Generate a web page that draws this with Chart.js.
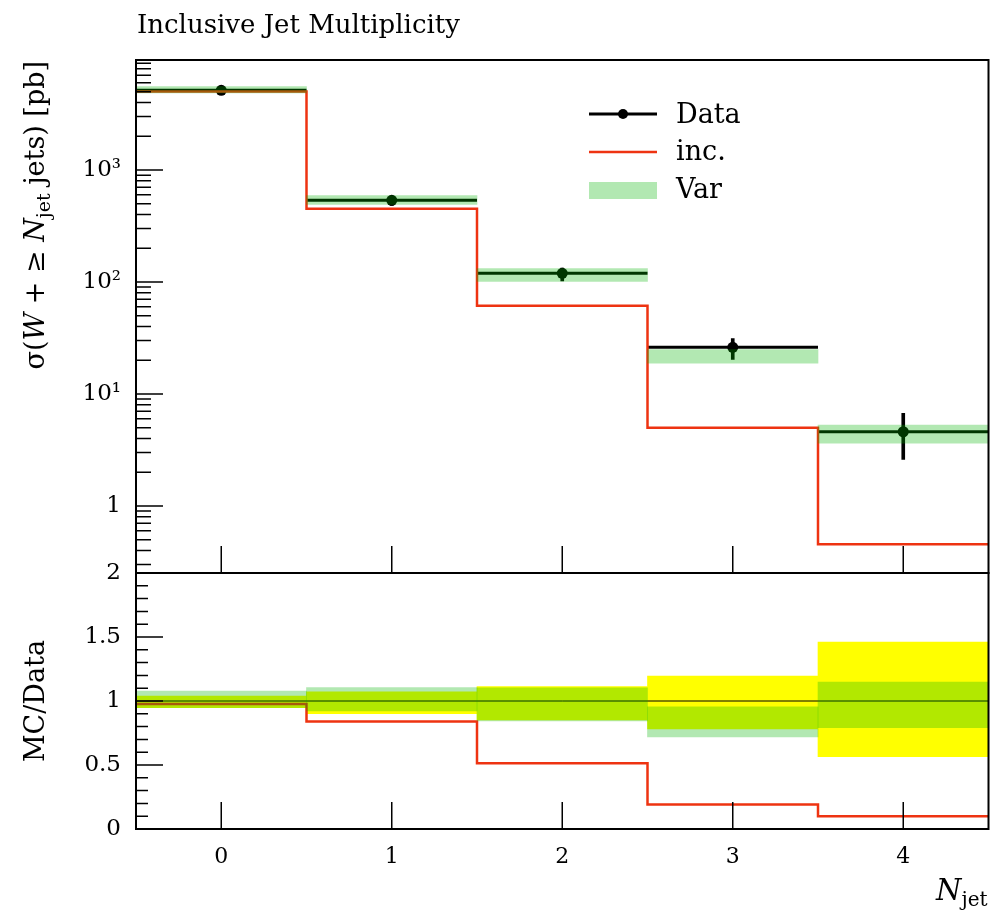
<!DOCTYPE html>
<html>
<head>
<meta charset="utf-8">
<title>Inclusive Jet Multiplicity</title>
<script src="https://cdn.jsdelivr.net/npm/chart.js@4/dist/chart.umd.min.js"></script>
<style>
  html, body { margin: 0; padding: 0; background: #fff; }
  canvas { display: block; }
</style>
</head>
<body>
<canvas id="njet" width="994" height="911"></canvas>
<script>
// Jet multiplicity bins
const nJet = [0, 1, 2, 3, 4];
const binLow = [-0.5, 0.5, 1.5, 2.5, 3.5];
const binHigh = [0.5, 1.5, 2.5, 3.5, 4.5];

// Measured cross sections [pb] and the edges of their error bars
const dataXs = [5150, 536, 119.6, 26.1, 4.6];
const dataLow = [4880, 483, 102, 20.4, 2.6];
const dataHigh = [5350, 574, 133, 31.2, 6.72];

// MC prediction "inc."
const incXs = [5030, 450, 61.5, 5.0, 0.455];

// "Var" envelope
const varLow = [4882, 494, 101, 18.8, 3.64];
const varHigh = [5552, 592, 132, 24.9, 5.28];

// axis ticks
const xsTicks = [1, 10, 100, 1000];
const xsTickLabels = ['1', '10¹', '10²', '10³'];
const ratioTicks = [0, 0.5, 1, 1.5, 2];
const ratioTickLabels = ['0', '0.5', '1', '1.5', '2'];

const SERIF = '"DejaVu Serif", "Liberation Serif", serif';
const RED = '#ee3311';
const VAR_FILL = 'rgba(0, 180, 0, 0.3)';
const YELLOW = '#ffff00';

// everything in the ratio panel is divided by the measured value
const ratio = vals => vals.map((v, i) => v / dataXs[i]);

// closed step outline of a histogram
function histLine(vals) {
    const pts = [];
    vals.forEach((v, i) => pts.push({ x: binLow[i], y: v }, { x: binHigh[i], y: v }));
    return pts;
}

// one horizontal segment per bin, not joined
function binLines(vals) {
    const pts = [];
    vals.forEach((v, i) => pts.push({ x: binLow[i], y: v }, { x: binHigh[i], y: v }, { x: binHigh[i], y: null }));
    return pts;
}

// floating bars [lo, hi] at the bin centres
function bands(lo, hi) {
    return nJet.map((x, i) => ({ x: x, y: [lo[i], hi[i]] }));
}

const bandOpts = { type: 'bar', barPercentage: 1, categoryPercentage: 1, grouped: false, borderWidth: 0 };

// frame and inward tick marks, ROOT style
const frameTicks = {
    id: 'frameTicks',
    afterDatasetsDraw(chart) {
        const { ctx, chartArea: a, scales } = chart;
        const top = scales.y, rat = scales.ratio, x = scales.x;
        ctx.save();
        ctx.strokeStyle = '#000';
        ctx.lineWidth = 1.5;
        ctx.beginPath();
        const hTick = (py, len) => { ctx.moveTo(a.left, py); ctx.lineTo(a.left + len, py); };
        for (let d = -1; d <= 3; d++) {
            for (let m = 1; m <= 9; m++) {
                const v = m * Math.pow(10, d);
                if (v < top.min || v > top.max) continue;
                hTick(top.getPixelForValue(v), m === 1 ? 27 : 15);
            }
        }
        for (let k = 0; k <= 20; k++) {
            hTick(rat.getPixelForValue(k / 10), k % 5 === 0 ? 27 : 12);
        }
        nJet.forEach(v => {
            const px = x.getPixelForValue(v);
            ctx.moveTo(px, top.bottom); ctx.lineTo(px, top.bottom - 27);
            ctx.moveTo(px, rat.bottom); ctx.lineTo(px, rat.bottom - 27);
        });
        ctx.stroke();
        ctx.lineWidth = 2;
        ctx.strokeRect(a.left, top.top, a.right - a.left, top.bottom - top.top);
        ctx.strokeRect(a.left, rat.top, a.right - a.left, rat.bottom - rat.top);
        ctx.restore();
    }
};

function drawRich(ctx, parts, x, y, align) {
    const fontOf = p => (p.italic ? 'italic ' : '') + p.size + 'px ' + SERIF;
    let total = 0;
    parts.forEach(p => { ctx.font = fontOf(p); p.w = ctx.measureText(p.text).width; total += p.w; });
    let cx = align === 'right' ? x - total : align === 'center' ? x - total / 2 : x;
    ctx.textAlign = 'left';
    parts.forEach(p => {
        ctx.font = fontOf(p);
        ctx.fillText(p.text, cx, y + (p.sub ? p.size * 0.3 : 0));
        cx += p.w;
    });
}

// title, axis titles and legend
const labels = {
    id: 'labels',
    afterDraw(chart) {
        const { ctx, chartArea: a, scales } = chart;
        ctx.save();
        ctx.fillStyle = '#000';
        ctx.textBaseline = 'alphabetic';

        drawRich(ctx, [{ text: 'Inclusive Jet Multiplicity', size: 26 }], a.left + 1, 33, 'left');

        ctx.save();
        ctx.translate(44, scales.y.top + 1);
        ctx.rotate(-Math.PI / 2);
        drawRich(ctx, [
            { text: 'σ(', size: 27 },
            { text: 'W', size: 27, italic: true },
            { text: ' + ≥ ', size: 27 },
            { text: 'N', size: 27, italic: true },
            { text: 'jet', size: 19, sub: true },
            { text: ' jets) [pb]', size: 27 }
        ], 0, 0, 'right');
        ctx.restore();

        ctx.save();
        ctx.translate(44, (scales.ratio.top + scales.ratio.bottom) / 2);
        ctx.rotate(-Math.PI / 2);
        drawRich(ctx, [{ text: 'MC/Data', size: 27 }], 0, 0, 'center');
        ctx.restore();

        drawRich(ctx, [
            { text: 'N', size: 29, italic: true },
            { text: 'jet', size: 20, sub: true }
        ], a.right - 1, 900, 'right');

        // legend
        const lx0 = a.left + 453, lx1 = a.left + 521, tx = a.left + 540;
        ctx.strokeStyle = '#000';
        ctx.lineWidth = 3;
        ctx.beginPath(); ctx.moveTo(lx0, 114); ctx.lineTo(lx1, 114); ctx.stroke();
        ctx.beginPath(); ctx.arc((lx0 + lx1) / 2, 114, 5, 0, 2 * Math.PI); ctx.fill();
        ctx.strokeStyle = RED;
        ctx.lineWidth = 2.5;
        ctx.beginPath(); ctx.moveTo(lx0, 152); ctx.lineTo(lx1, 152); ctx.stroke();
        ctx.fillStyle = VAR_FILL;
        ctx.fillRect(lx0, 182, lx1 - lx0, 17);
        ctx.fillStyle = '#000';
        drawRich(ctx, [{ text: 'Data', size: 27 }], tx, 123, 'left');
        drawRich(ctx, [{ text: 'inc.', size: 27 }], tx, 160, 'left');
        drawRich(ctx, [{ text: 'Var', size: 27 }], tx, 198, 'left');
        ctx.restore();
    }
};

new Chart(document.getElementById('njet'), {
    type: 'bar',
    data: {
        datasets: [
            // upper panel
            Object.assign({ label: 'Var', yAxisID: 'y', data: bands(varLow, varHigh), backgroundColor: VAR_FILL, order: 0 }, bandOpts),
            { type: 'line', label: 'inc.', yAxisID: 'y', data: histLine(incXs), borderColor: RED, borderWidth: 2.5, pointRadius: 0, order: 1 },
            Object.assign({ label: 'Data errors', yAxisID: 'y', data: bands(dataLow, dataHigh), backgroundColor: '#000', maxBarThickness: 3, order: 2 }, bandOpts),
            { type: 'line', label: 'Data', yAxisID: 'y', data: binLines(dataXs), borderColor: '#000', borderWidth: 3, pointRadius: 0, order: 2 },
            { type: 'line', label: 'Data points', yAxisID: 'y', data: nJet.map((x, i) => ({ x: x, y: dataXs[i] })), showLine: false, pointRadius: 5.5, pointBackgroundColor: '#000', pointBorderWidth: 0, order: 2 },
            // ratio panel
            Object.assign({ label: 'Var / Data', yAxisID: 'ratio', data: bands(ratio(varLow), ratio(varHigh)), backgroundColor: VAR_FILL, order: 0 }, bandOpts),
            { type: 'line', label: 'inc. / Data', yAxisID: 'ratio', data: histLine(ratio(incXs)), borderColor: RED, borderWidth: 2.5, pointRadius: 0, order: 1 },
            { type: 'line', label: 'Data / Data', yAxisID: 'ratio', data: [{ x: binLow[0], y: 1 }, { x: binHigh[binHigh.length - 1], y: 1 }], borderColor: '#000', borderWidth: 1, pointRadius: 0, order: 2 },
            Object.assign({ label: 'Data uncertainty', yAxisID: 'ratio', data: bands(ratio(dataLow), ratio(dataHigh)), backgroundColor: YELLOW, order: 3 }, bandOpts)
        ]
    },
    options: {
        responsive: false,
        animation: false,
        events: [],
        layout: { padding: { top: 60, right: 3, left: 0, bottom: 0 } },
        plugins: {
            legend: { display: false },
            tooltip: { enabled: false }
        },
        scales: {
            x: {
                type: 'linear',
                offset: false,
                min: -0.5,
                max: 4.5,
                afterBuildTicks: s => { s.ticks = nJet.map(v => ({ value: v })); },
                afterFit: s => { s.height = 82; },
                grid: { display: false, drawTicks: false },
                border: { display: false },
                ticks: { color: '#000', padding: 15, font: { family: SERIF, size: 22 } }
            },
            // ratio panel scale first: the later stacked scale sits on top
            ratio: {
                type: 'linear',
                position: 'left',
                stack: 'panels',
                stackWeight: 256,
                min: 0,
                max: 2,
                afterBuildTicks: s => { s.ticks = ratioTicks.map(v => ({ value: v })); },
                afterFit: s => { s.width = 136; },
                grid: { display: false, drawTicks: false },
                border: { display: false },
                ticks: {
                    autoSkip: false,
                    color: '#000',
                    padding: 15,
                    font: { family: SERIF, size: 23 },
                    callback: (v, i) => ratioTickLabels[i]
                }
            },
            y: {
                type: 'logarithmic',
                position: 'left',
                stack: 'panels',
                stackWeight: 513,
                min: 0.252,
                max: 9600,
                afterBuildTicks: s => { s.ticks = xsTicks.map(v => ({ value: v })); },
                afterFit: s => { s.width = 136; },
                grid: { display: false, drawTicks: false },
                border: { display: false },
                ticks: {
                    autoSkip: false,
                    color: '#000',
                    padding: 15,
                    font: { family: SERIF, size: 23 },
                    callback: (v, i) => xsTickLabels[i]
                }
            }
        }
    },
    plugins: [frameTicks, labels]
});
</script>
</body>
</html>
